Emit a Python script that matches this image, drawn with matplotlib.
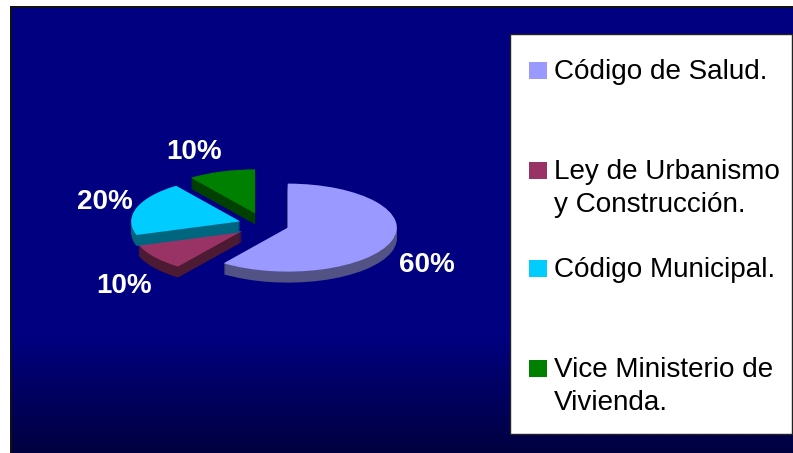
import matplotlib
matplotlib.use('Agg')
import matplotlib.pyplot as plt
from matplotlib.colors import LinearSegmentedColormap
from matplotlib.patches import Rectangle
import numpy as np

W, H = 793, 453

# data
categories = ['Código de Salud.', 'Ley de Urbanismo\ny Construcción.',
              'Código Municipal.', 'Vice Ministerio de\nVivienda.']
values = [60, 10, 20, 10]
top_colors = ['#9999FF', '#993366', '#00CCFF', '#008000']
side_colors = ['#525284', '#4D1A33', '#006680', '#004000']

# look of the exploded pie, in pixels of the picture
ysquash = 109 / 44
center = (264, 224.5)
radius = 109
depth = 11
explode = [25, 27, 25, 29]
draw_order = [0, 1, 2, 3]
label_pos = [(427, 265), (124, 286), (105, 202), (194, 152)]
legend_top = [58, 158, 256, 356]
swatch_y = [70.5, 170.5, 268.5, 368.5]


def py(y):
    # picture pixel row to data y
    return (H - y) * ysquash


fig = plt.figure(figsize=(W / 100, H / 100), dpi=100, facecolor='white')
ax = fig.add_axes([0, 0, 1, 1])

# first one draws the side, sweeping the pie downwards, last one the top
for d in list(range(depth, 0, -1)) + [0]:
    colors = top_colors if d == 0 else side_colors
    wedges, _ = ax.pie(values, explode=explode, colors=colors, startangle=90,
                       counterclock=False, radius=radius,
                       center=(center[0], py(center[1] + d)))
    for i, w in enumerate(wedges):
        w.set_zorder(2 + draw_order[i] + (0.5 if d == 0 else 0))
        w.set_linewidth(0)
        w.set_clip_on(False)

# background with black frame
grad = LinearSegmentedColormap.from_list('bg', [(0, '#000080'), (0.74, '#000080'),
                                                (1, '#000040')])
ax.imshow(np.linspace(0, 1, 256).reshape(-1, 1), cmap=grad, aspect='auto', zorder=0,
          extent=(12, W, py(H), py(7)), origin='upper')
ax.add_patch(Rectangle((10, py(H)), 2, py(6) - py(H), fc='#111111', ec='none', zorder=1))
ax.add_patch(Rectangle((10, py(8)), W - 10, py(6) - py(8), fc='#111111', ec='none', zorder=1))

ax.set_xlim(0, W)
ax.set_ylim(0, H * ysquash)
ax.set_aspect('auto')
ax.axis('on')
ax.set_frame_on(False)
ax.set_xticks([])
ax.set_yticks([])

font = 'Liberation Sans'
for v, (x, y) in zip(values, label_pos):
    ax.text(x, py(y), f'{v}%', color='white', fontsize=20, fontweight='bold',
            family=font, ha='center', va='center', zorder=10)

# legend box
ax.add_patch(Rectangle((509.5, py(433.5)), 282, py(33.5) - py(433.5), fc='white', ec='#222222',
                       lw=1, zorder=8))
for name, c, top, sy in zip(categories, top_colors, legend_top, swatch_y):
    ax.add_patch(Rectangle((529, py(sy + 8.5)), 18, 17 * ysquash, fc=c, ec='none', zorder=9))
    ax.text(554, py(top + 1), name, color='black', fontsize=20.1, family=font,
            ha='left', va='top', linespacing=1.35, zorder=10)

fig.savefig('out.png', dpi=100)
